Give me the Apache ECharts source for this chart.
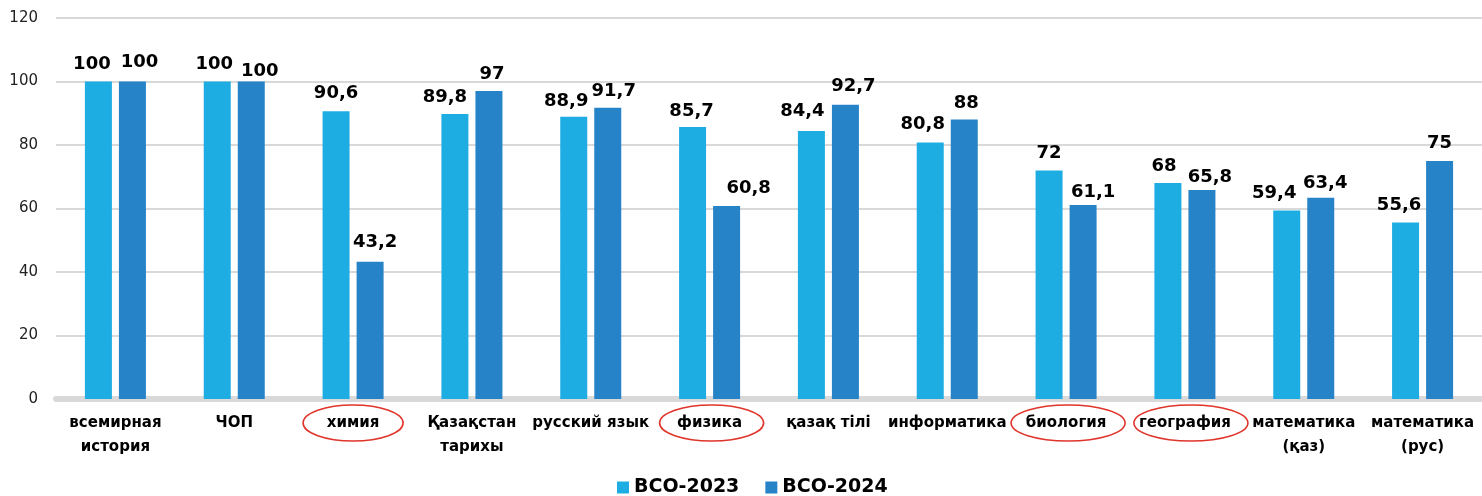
<!DOCTYPE html>
<html><head><meta charset="utf-8">
<script src="https://cdn.jsdelivr.net/npm/echarts@6/dist/echarts.min.js"></script>
<style>html,body{margin:0;padding:0;background:#fff}#c{width:1482px;height:496px}</style>
</head><body><div id="c"></div>
<script>
const categories = ['всемирная\nистория','ЧОП','химия','Қазақстан\nтарихы','русский язык','физика','қазақ тілі','информатика','биология','география','математика\n(қаз)','математика\n(рус)'];
const series2023 = [100,100,90.6,89.8,88.9,85.7,84.4,80.8,72,68,59.4,55.6];
const series2024 = [100,100,43.2,97,91.7,60.8,92.7,88,61.1,65.8,63.4,75];
const seriesNames = ['ВСО-2023','ВСО-2024'];
const yTicks = [0,20,40,60,80,100,120];
// layout-only: label nudges (px) as placed in the original, and circled categories
const labelDx2023 = [-6.5,-3,0,-10,-7.5,-1,-9,-7.5,0,-4,-12.5,-6.5];
const labelDy2023 = [0,0,-1,0,2,1,-3,-1,0,0,0,0];
const labelDx2024 = [7,8.5,5,3,6,22,8,2,10,8,4.5,0];
const labelDy2024 = [-2,7,-3,0,0,-1,-1,1,4,4,3,-1];
const circled = [['химия',50,0],['физика',52,2],['биология',57,2],['география',57,6]];

const FONT = 'DejaVu Sans';
const baseLabel = {show:true,position:'top',distance:8,color:'#000',fontFamily:FONT,fontWeight:'bold',fontSize:18};
const fmt = v => String(v).replace('.',',');
const mk = (vals,dx,dy) => vals.map((v,i)=>({value:v,label:{offset:[dx[i],dy[i]]}}));
const chart = echarts.init(document.getElementById('c'));
chart.setOption({
  animation:false,
  grid:{left:56,right:0,top:18,bottom:97},
  legend:{bottom:-6,left:612,itemWidth:12,itemHeight:12,itemGap:26,icon:'rect',
    textStyle:{fontFamily:FONT,fontWeight:'bold',fontSize:19,color:'#000'}},
  xAxis:{type:'category',data:categories,
    axisLine:{lineStyle:{color:'#d9d9d9',width:6}},axisTick:{show:false},
    axisLabel:{interval:0,color:'#000',fontFamily:FONT,fontWeight:'bold',fontSize:15,lineHeight:24,margin:12}},
  yAxis:{type:'value',min:yTicks[0],max:yTicks[yTicks.length-1],interval:yTicks[1]-yTicks[0],
    axisLabel:{color:'#222',fontFamily:FONT,fontSize:15,margin:18},
    splitLine:{lineStyle:{color:'#d9d9d9',width:2}}},
  series:[
    {name:seriesNames[0],type:'bar',data:mk(series2023,labelDx2023,labelDy2023),barWidth:27,barGap:'26%',
      itemStyle:{color:'#1EADE3'},label:Object.assign({formatter:p=>fmt(p.value)},baseLabel)},
    {name:seriesNames[1],type:'bar',data:mk(series2024,labelDx2024,labelDy2024),barWidth:27,
      itemStyle:{color:'#2783C7'},label:Object.assign({formatter:p=>fmt(p.value)},baseLabel)}
  ]
});
const y0 = chart.convertToPixel({yAxisIndex:0},0);
chart.setOption({graphic:circled.map(([name,rx,dx])=>({
  type:'ellipse',silent:true,
  shape:{cx:chart.convertToPixel({xAxisIndex:0},name)+dx,cy:y0+24,rx:rx,ry:18},
  style:{fill:'none',stroke:'#E0352B',lineWidth:1.6}
}))});
</script></body></html>
